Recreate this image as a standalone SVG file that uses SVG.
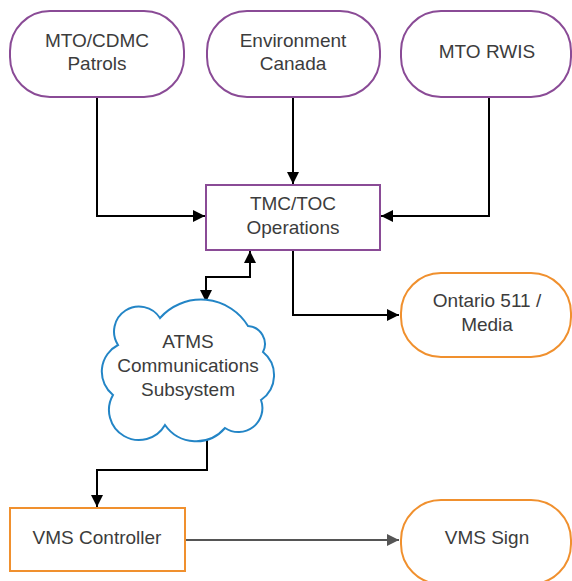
<svg xmlns="http://www.w3.org/2000/svg" width="572" height="581" viewBox="0 0 572 581">
<style>
.t{font-family:"Liberation Sans",Arial,sans-serif;font-size:19px;fill:#3c3c3c;text-anchor:middle}
.p{fill:#ffffff;stroke:#8a4b96;stroke-width:2}
.o{fill:#ffffff;stroke:#f0902e;stroke-width:2}
.c{fill:#ffffff;stroke:#2385c6;stroke-width:2}
.e{fill:none;stroke:#000000;stroke-width:2}
</style>
<defs>
<marker id="a" viewBox="0 0 12 12" refX="12" refY="6" markerWidth="12" markerHeight="12" markerUnits="userSpaceOnUse" orient="auto-start-reverse">
<path d="M0,0 L12,6 L0,12 Z" fill="#000"/>
</marker>
<marker id="g" viewBox="0 0 12 12" refX="12" refY="6" markerWidth="12" markerHeight="12" markerUnits="userSpaceOnUse" orient="auto">
<path d="M0,0 L12,6 L0,12 Z" fill="#555"/>
</marker>
</defs>
<g id="connectors">
<path class="e" d="M97,98 V216 H205" marker-end="url(#a)"/>
<path class="e" d="M293,98 V184" marker-end="url(#a)"/>
<path class="e" d="M489,98 V216 H381" marker-end="url(#a)"/>
<path class="e" d="M293,251 V315 H399" marker-end="url(#a)"/>
<path class="e" d="M250,251 V277 H206 V302" marker-start="url(#a)" marker-end="url(#a)"/>
<path class="e" d="M207,432 V470 H97 V507" marker-end="url(#a)"/>
<path d="M186,540 H399" fill="none" stroke="#555" stroke-width="2" marker-end="url(#g)"/>
</g>
<g id="mto-cdmc">
<rect class="p" x="10" y="11" width="174" height="86" rx="40"/>
<text class="t" x="97" y="47">MTO/CDMC</text>
<text class="t" x="97" y="70">Patrols</text>
</g>
<g id="env-canada">
<rect class="p" x="207" y="11" width="173" height="86" rx="40"/>
<text class="t" x="293" y="47">Environment</text>
<text class="t" x="293" y="70">Canada</text>
</g>
<g id="mto-rwis">
<rect class="p" x="401" y="11" width="170" height="86" rx="40"/>
<text class="t" x="487" y="58">MTO RWIS</text>
</g>
<g id="tmc-toc">
<rect class="p" x="206" y="185" width="174" height="65"/>
<text class="t" x="293" y="210">TMC/TOC</text>
<text class="t" x="293" y="234">Operations</text>
</g>
<g id="ontario-511">
<rect class="o" x="401" y="273" width="170" height="84" rx="40"/>
<text class="t" x="487" y="307">Ontario 511 /</text>
<text class="t" x="487" y="331">Media</text>
</g>
<g id="atms">
<path class="c" d="M118,345 A24,24 0 0 1 160,318 A55,55 0 0 1 248,326 A18,18 0 0 1 263,352 A30,30 0 0 1 261,400 A24,24 0 0 1 225,428 A38,38 0 0 1 165,425 A30,30 0 0 1 113,395 A30,30 0 0 1 118,345 Z"/>
<text class="t" x="188" y="348">ATMS</text>
<text class="t" x="188" y="372">Communications</text>
<text class="t" x="188" y="396">Subsystem</text>
</g>
<g id="vms-controller">
<rect class="o" x="10" y="508" width="175" height="63"/>
<text class="t" x="97" y="544">VMS Controller</text>
</g>
<g id="vms-sign">
<rect class="o" x="401" y="500" width="170" height="84" rx="40"/>
<text class="t" x="487" y="544">VMS Sign</text>
</g>
</svg>
